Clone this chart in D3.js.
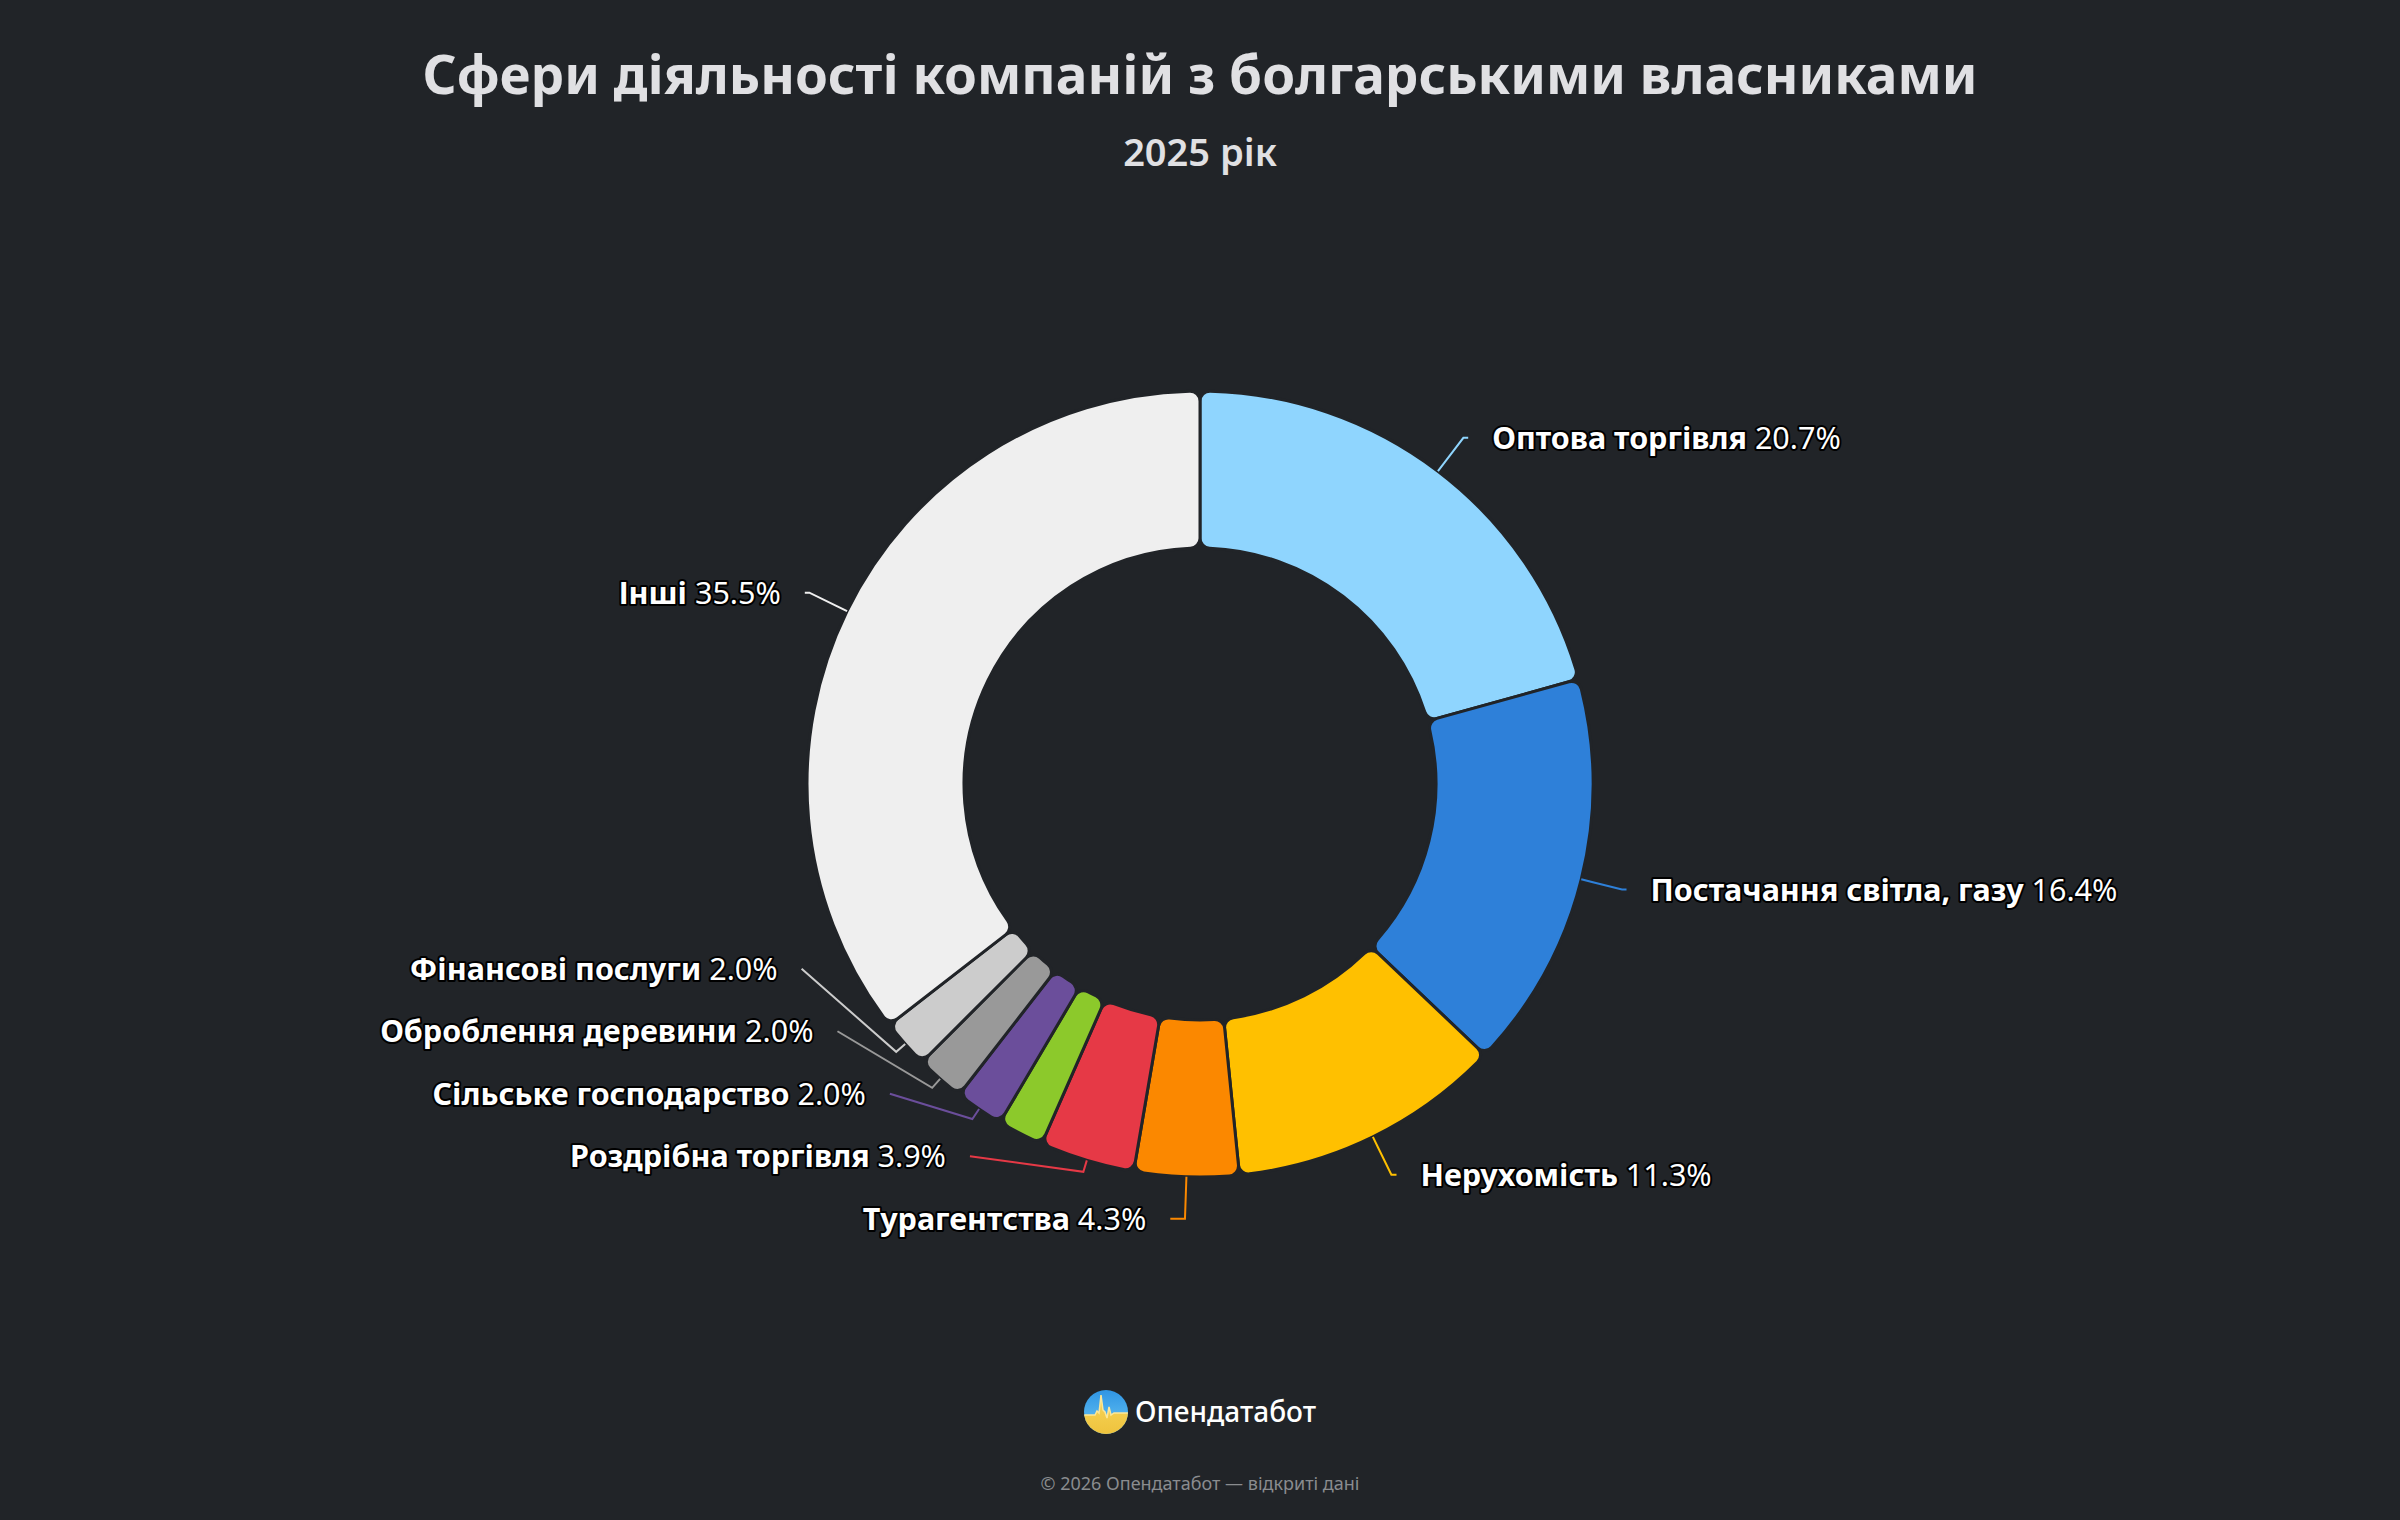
<!DOCTYPE html>
<html>
<head>
<meta charset="utf-8">
<script src="https://cdn.jsdelivr.net/npm/d3@7"></script>
<style>
  html, body { margin: 0; padding: 0; background: #212428; }
  svg { display: block; font-family: "Noto Sans", "Open Sans", sans-serif; }
</style>
</head>
<body>
<div id="chart"></div>
<script>
// data (percent of companies)
const categories = ["Оптова торгівля", "Постачання світла, газу", "Нерухомість", "Турагентства",
  "Роздрібна торгівля", "Виробництво", "Сільське господарство", "Оброблення деревини",
  "Фінансові послуги", "Інші"];
const shares = [20.7, 16.4, 11.3, 4.3, 3.9, 1.9, 2.0, 2.0, 2.0, 35.5];
const sliceColors = ["#8fd5fe", "#2e80d9", "#ffc000", "#fb8800", "#e63946", "#8cc92b",
  "#6b4e9b", "#999999", "#cccccc", "#efefef"];

const titleText = "Сфери діяльності компаній з болгарськими власниками";
const subtitleText = "2025 рік";
const brandText = "Опендатабот";
const creditText = "© 2026 Опендатабот — відкриті дані";

const width = 2400, height = 1520;
const bg = "#212428";
const cx = 1200, cy = 784;
const outerR = 393, innerR = 236;
// label geometry (imitates highcharts pie labels)
const labelRy = 435, labelRx = 435.5, breakR = outerR + 12;
const connGap = 4, labelPad = 24, lineStep = 62.5;
const fontSize = 30.5;

const data = categories.map((c, i) => ({ name: c, value: shares[i], color: sliceColors[i] }));

const svg = d3.select("#chart").append("svg")
  .attr("width", width)
  .attr("height", height);

svg.append("rect").attr("width", width).attr("height", height).attr("fill", bg);

svg.append("text")
  .attr("x", cx).attr("y", 94)
  .attr("text-anchor", "middle")
  .style("font-size", "53px").style("font-weight", "bold")
  .attr("fill", "#e0e0e3")
  .text(titleText);

svg.append("text")
  .attr("x", cx).attr("y", 166)
  .attr("text-anchor", "middle")
  .style("font-size", "38px").style("font-weight", 600)
  .attr("fill", "#e0e0e3")
  .text(subtitleText);

const pie = d3.pie().sort(null).value(d => d.value);
const arcs = pie(data);

const arc = d3.arc()
  .innerRadius(innerR)
  .outerRadius(outerR)
  .cornerRadius(10);

const g = svg.append("g").attr("transform", "translate(" + cx + "," + cy + ")");

g.selectAll("path.slice")
  .data(arcs)
  .enter()
  .append("path")
  .attr("class", "slice")
  .attr("d", arc)
  .attr("fill", d => d.data.color)
  .attr("stroke", bg)
  .attr("stroke-width", 3);

// label placement
arcs.forEach(d => {
  d.mid = (d.startAngle + d.endAngle) / 2;
  d.left = Math.sin(d.mid) < 0;
  d.naturalY = cy - labelRy * Math.cos(d.mid);
  d.visible = true;
});

function place(side) {
  let items = arcs.filter(d => d.left === side);
  while (true) {
    const vis = items.filter(d => d.visible).sort((a, b) => a.naturalY - b.naturalY);
    // push up from the bottom
    for (let i = vis.length - 1; i >= 0; i--) {
      const below = i < vis.length - 1 ? vis[i + 1].y : Infinity;
      vis[i].y = Math.min(vis[i].naturalY, below - lineStep);
    }
    const worst = d3.max(vis, d => Math.abs(d.y - d.naturalY));
    if (worst <= 130 || vis.length < 2) break;
    // hide the smallest label if the stack drifts too far
    d3.least(vis, d => d.value).visible = false;
  }
}
place(true);
place(false);

const labelled = arcs.filter(d => d.visible);
labelled.forEach(d => {
  const dy = d.y - cy;
  const dx = Math.sqrt(Math.max(0, labelRx * labelRx - dy * dy));
  d.circX = d.left ? cx - dx : cx + dx;
  d.connX = d.left ? d.circX - connGap : d.circX + connGap;
  const bx = cx + breakR * Math.sin(d.mid), by = cy - breakR * Math.cos(d.mid);
  const tx = cx + outerR * Math.sin(d.mid), ty = cy - outerR * Math.cos(d.mid);
  const crookX = cx + (cy - d.y) * Math.tan(d.mid);
  const pts = [[d.connX, d.y]];
  const ok = d.left ? (crookX >= d.connX && crookX <= bx) : (crookX <= d.connX && crookX >= bx);
  if (ok) pts.push([crookX, d.y]);
  pts.push([bx, by], [tx, ty]);
  d.connector = pts;
});

svg.selectAll("path.connector")
  .data(labelled)
  .enter()
  .append("path")
  .attr("class", "connector")
  .attr("d", d => d3.line()(d.connector))
  .attr("fill", "none")
  .attr("stroke", d => d.data.color)
  .attr("stroke-width", 2);

const labels = svg.selectAll("text.lbl")
  .data(labelled)
  .enter()
  .append("text")
  .attr("class", "lbl")
  .attr("x", d => d.left ? d.circX - labelPad - connGap : d.circX + labelPad + connGap)
  .attr("y", d => d.y + fontSize * 0.36)
  .attr("text-anchor", d => d.left ? "end" : "start")
  .style("font-size", fontSize + "px")
  .attr("fill", "#ffffff")
  .attr("stroke", "#000000")
  .attr("stroke-width", 4)
  .attr("stroke-linejoin", "round")
  .style("paint-order", "stroke");

labels.append("tspan").style("font-weight", "bold").text(d => d.data.name + " ");
labels.append("tspan").style("font-weight", "normal").text(d => d.data.value.toFixed(1) + "%");

// footer brand
const logoX = 1106, logoY = 1412, logoR = 22;
const defs = svg.append("defs");
defs.append("clipPath").attr("id", "logo-clip")
  .append("circle").attr("cx", logoX).attr("cy", logoY).attr("r", logoR);
const grad = defs.append("linearGradient").attr("id", "logo-sky")
  .attr("x1", 0).attr("y1", 0).attr("x2", 0).attr("y2", 1);
grad.append("stop").attr("offset", "0%").attr("stop-color", "#2f95e4");
grad.append("stop").attr("offset", "100%").attr("stop-color", "#6cc8f4");
const gradY = defs.append("linearGradient").attr("id", "logo-sun")
  .attr("x1", 0).attr("y1", 0).attr("x2", 0).attr("y2", 1);
gradY.append("stop").attr("offset", "0%").attr("stop-color", "#f7d55a");
gradY.append("stop").attr("offset", "100%").attr("stop-color", "#eec23c");

const logo = svg.append("g").attr("clip-path", "url(#logo-clip)");
logo.append("rect")
  .attr("x", logoX - logoR).attr("y", logoY - logoR)
  .attr("width", 2 * logoR).attr("height", 2 * logoR)
  .attr("fill", "url(#logo-sky)");
const pulse = [[-24, 3], [-11, 3], [-9, -1], [-7, 1], [-5, -17], [-3, -2], [-1, 0], [1, 6], [3, -5], [5, 3], [8, 1], [24, 1]];
const pulseLine = d3.line()(pulse.map(p => [logoX + p[0], logoY + p[1]]));
logo.append("path")
  .attr("d", pulseLine + "L" + (logoX + 24) + "," + (logoY + 24) + "L" + (logoX - 24) + "," + (logoY + 24) + "Z")
  .attr("fill", "url(#logo-sun)");
logo.append("path")
  .attr("d", pulseLine)
  .attr("fill", "none")
  .attr("stroke", "#fbe79a")
  .attr("stroke-width", 1.5);

svg.append("text")
  .attr("x", 1135).attr("y", 1422)
  .style("font-size", "28px").style("font-weight", 500)
  .attr("fill", "#ffffff")
  .text(brandText);

svg.append("text")
  .attr("x", cx).attr("y", 1490)
  .attr("text-anchor", "middle")
  .style("font-size", "18px")
  .attr("fill", "#8a8c8f")
  .text(creditText);
</script>
</body>
</html>
